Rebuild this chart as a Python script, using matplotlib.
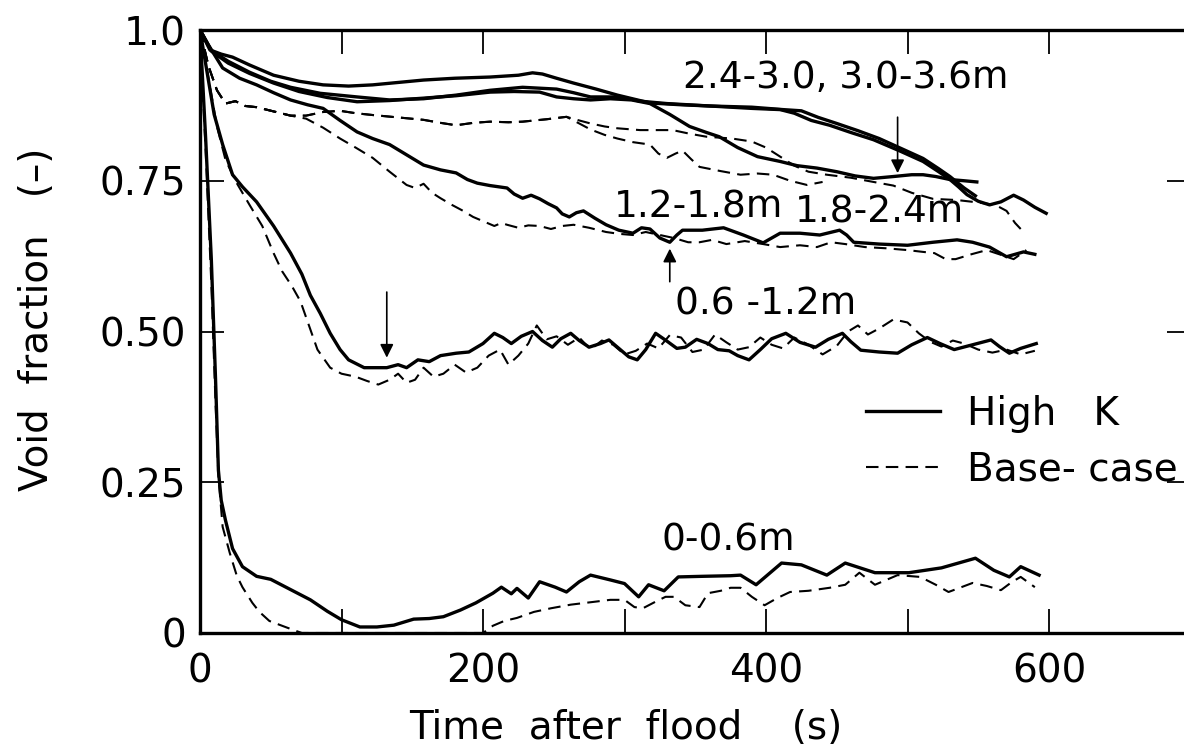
import numpy as np
import matplotlib
matplotlib.use('Agg')
import matplotlib.pyplot as plt

plt.rcParams['font.family'] = ['DejaVu Sans']

# void fraction traces, columns: time (s), void fraction (-)
# High K (solid)
s0006 = np.array([[0, 1.0], [4, 0.82], [8, 0.62], [11, 0.42], [13, 0.27], [15, 0.22], [18, 0.187],
                  [23, 0.14], [30, 0.11], [40, 0.094], [50, 0.089], [64, 0.072], [78, 0.055], [90, 0.036],
                  [100, 0.022], [113, 0.01], [125, 0.01], [137, 0.013], [151, 0.023], [162, 0.024],
                  [172, 0.027], [184, 0.038], [195, 0.05], [207, 0.066], [213, 0.076], [220, 0.065],
                  [224, 0.074], [232, 0.058], [240, 0.085], [251, 0.076], [259, 0.068], [268, 0.085],
                  [276, 0.096], [290, 0.088], [300, 0.082], [310, 0.06], [317, 0.08], [328, 0.07],
                  [338, 0.093], [355, 0.094], [375, 0.095], [382, 0.096], [393, 0.08], [411, 0.116],
                  [425, 0.113], [443, 0.096], [456, 0.116], [477, 0.1], [501, 0.1], [524, 0.108],
                  [548, 0.124], [561, 0.104], [572, 0.093], [580, 0.11], [593, 0.096]])
s0612 = np.array([[0, 1.0], [5, 0.93], [10, 0.86], [16, 0.81], [23, 0.76], [30, 0.74], [40, 0.715],
                  [52, 0.675], [64, 0.63], [72, 0.595], [78, 0.56], [85, 0.53], [92, 0.497], [99, 0.47],
                  [105, 0.453], [116, 0.44], [125, 0.44], [132, 0.44], [140, 0.445], [146, 0.44],
                  [154, 0.453], [162, 0.45], [170, 0.46], [181, 0.464], [190, 0.466], [200, 0.48],
                  [208, 0.497], [214, 0.49], [220, 0.48], [227, 0.492], [235, 0.5], [242, 0.485],
                  [249, 0.474], [255, 0.488], [262, 0.497], [268, 0.485], [275, 0.474], [283, 0.48],
                  [289, 0.486], [297, 0.47], [303, 0.458], [309, 0.453], [315, 0.47], [322, 0.497],
                  [330, 0.484], [337, 0.472], [343, 0.474], [351, 0.487], [359, 0.48], [366, 0.47],
                  [374, 0.468], [380, 0.46], [388, 0.453], [396, 0.47], [404, 0.488], [414, 0.497],
                  [424, 0.482], [435, 0.474], [444, 0.487], [454, 0.497], [460, 0.483], [467, 0.469],
                  [480, 0.466], [493, 0.464], [503, 0.478], [514, 0.49], [523, 0.48], [533, 0.47],
                  [546, 0.478], [559, 0.486], [565, 0.475], [572, 0.464], [580, 0.472], [591, 0.48]])
s1218 = np.array([[0, 1.0], [6, 0.975], [16, 0.937], [28, 0.92], [40, 0.909], [52, 0.896], [64, 0.884],
                  [76, 0.876], [87, 0.87], [99, 0.85], [111, 0.831], [122, 0.82], [134, 0.81], [146, 0.793],
                  [158, 0.776], [170, 0.768], [181, 0.763], [189, 0.752], [196, 0.746], [205, 0.742],
                  [217, 0.738], [222, 0.728], [228, 0.721], [234, 0.726], [240, 0.72], [246, 0.712],
                  [252, 0.705], [256, 0.695], [261, 0.69], [266, 0.697], [271, 0.70], [279, 0.688],
                  [287, 0.677], [296, 0.668], [306, 0.663], [312, 0.672], [318, 0.67], [325, 0.655],
                  [332, 0.648], [337, 0.66], [341, 0.668], [355, 0.668], [370, 0.672], [384, 0.66],
                  [398, 0.647], [404, 0.655], [410, 0.663], [424, 0.663], [438, 0.66], [452, 0.668],
                  [457, 0.66], [462, 0.648], [480, 0.645], [500, 0.643], [518, 0.648], [535, 0.652],
                  [546, 0.648], [558, 0.64], [564, 0.632], [570, 0.624], [576, 0.628], [582, 0.632],
                  [590, 0.628]])
s1824 = np.array([[0, 1.0], [8, 0.965], [20, 0.945], [35, 0.928], [52, 0.912], [70, 0.898], [90, 0.888],
                  [111, 0.881], [134, 0.883], [158, 0.887], [181, 0.891], [205, 0.897], [222, 0.898],
                  [240, 0.897], [252, 0.889], [264, 0.886], [276, 0.884], [290, 0.886], [305, 0.884],
                  [318, 0.878], [332, 0.86], [346, 0.84], [358, 0.83], [367, 0.823], [380, 0.805],
                  [394, 0.79], [410, 0.782], [422, 0.775], [436, 0.771], [450, 0.765], [463, 0.758],
                  [476, 0.754], [490, 0.757], [503, 0.76], [511, 0.76], [520, 0.757], [530, 0.752],
                  [540, 0.75], [549, 0.748]])
s2430 = np.array([[0, 1.0], [8, 0.966], [20, 0.948], [35, 0.93], [50, 0.915], [64, 0.905], [85, 0.895],
                  [111, 0.889], [134, 0.884], [158, 0.886], [181, 0.892], [205, 0.9], [228, 0.905],
                  [252, 0.902], [264, 0.896], [276, 0.889], [297, 0.889], [311, 0.882], [330, 0.878],
                  [360, 0.874], [390, 0.87], [410, 0.868], [420, 0.862], [432, 0.85], [445, 0.842],
                  [460, 0.83], [476, 0.818], [494, 0.8], [511, 0.782], [522, 0.765], [530, 0.752],
                  [536, 0.74], [542, 0.727], [550, 0.716], [558, 0.71], [566, 0.715], [575, 0.726],
                  [582, 0.718], [590, 0.706], [598, 0.696]])
s3036 = np.array([[0, 1.0], [7, 0.967], [15, 0.96], [23, 0.955], [35, 0.942], [52, 0.925], [70, 0.915],
                  [87, 0.909], [105, 0.907], [122, 0.909], [140, 0.913], [158, 0.917], [180, 0.92],
                  [205, 0.922], [225, 0.925], [235, 0.929], [242, 0.927], [252, 0.92], [264, 0.912],
                  [280, 0.902], [295, 0.892], [318, 0.879], [340, 0.876], [360, 0.874], [390, 0.872],
                  [412, 0.868], [425, 0.866], [437, 0.855], [450, 0.845], [465, 0.833], [480, 0.82],
                  [496, 0.803], [511, 0.787], [522, 0.77], [530, 0.757], [540, 0.738], [548, 0.725]])

# Base-case (dashed)
d0006 = np.array([[0, 1.0], [4, 0.8], [8, 0.58], [11, 0.38], [13, 0.26], [16, 0.176], [21, 0.133],
                  [26, 0.095], [30, 0.076], [37, 0.05], [42, 0.035], [49, 0.02], [58, 0.012], [66, 0.005],
                  [72, 0.0], [200, 0.0], [207, 0.012], [215, 0.02], [224, 0.025], [236, 0.035],
                  [248, 0.041], [262, 0.047], [276, 0.051], [290, 0.055], [300, 0.055], [307, 0.043],
                  [313, 0.041], [322, 0.052], [329, 0.06], [335, 0.06], [343, 0.046], [353, 0.043],
                  [359, 0.066], [368, 0.07], [375, 0.075], [382, 0.075], [390, 0.06], [399, 0.046],
                  [408, 0.058], [417, 0.068], [430, 0.07], [445, 0.075], [456, 0.08], [466, 0.1],
                  [477, 0.08], [493, 0.096], [509, 0.093], [520, 0.08], [529, 0.068], [546, 0.083],
                  [556, 0.078], [566, 0.071], [574, 0.085], [580, 0.093], [590, 0.076]])
d0612 = np.array([[0, 1.0], [6, 0.92], [12, 0.84], [18, 0.785], [25, 0.75], [35, 0.71], [44, 0.675],
                  [52, 0.63], [58, 0.6], [65, 0.575], [71, 0.55], [77, 0.51], [83, 0.47], [92, 0.44],
                  [100, 0.43], [110, 0.425], [118, 0.418], [126, 0.412], [134, 0.42], [140, 0.43],
                  [146, 0.415], [152, 0.42], [158, 0.44], [165, 0.425], [172, 0.43], [180, 0.445],
                  [188, 0.432], [196, 0.44], [204, 0.46], [212, 0.47], [218, 0.445], [225, 0.46],
                  [232, 0.48], [238, 0.51], [245, 0.487], [252, 0.492], [260, 0.478], [268, 0.49],
                  [276, 0.47], [284, 0.485], [292, 0.478], [300, 0.462], [308, 0.468], [316, 0.48],
                  [324, 0.472], [332, 0.494], [340, 0.49], [348, 0.466], [356, 0.47], [364, 0.495],
                  [372, 0.482], [380, 0.47], [388, 0.474], [396, 0.49], [404, 0.478], [412, 0.472],
                  [420, 0.49], [430, 0.478], [440, 0.462], [450, 0.476], [458, 0.5], [465, 0.51],
                  [472, 0.495], [480, 0.505], [490, 0.52], [500, 0.515], [508, 0.497], [516, 0.483],
                  [524, 0.475], [532, 0.485], [540, 0.48], [550, 0.47], [560, 0.465], [570, 0.47],
                  [580, 0.462], [590, 0.468]])
d1218 = np.array([[0, 1.0], [6, 0.94], [12, 0.9], [18, 0.878], [25, 0.882], [32, 0.874], [40, 0.872],
                  [52, 0.865], [64, 0.858], [75, 0.853], [87, 0.838], [99, 0.82], [110, 0.805],
                  [122, 0.788], [134, 0.765], [146, 0.743], [152, 0.738], [158, 0.745], [164, 0.73],
                  [170, 0.721], [178, 0.71], [186, 0.70], [193, 0.69], [200, 0.683], [208, 0.675],
                  [213, 0.68], [217, 0.677], [225, 0.672], [232, 0.676], [240, 0.675], [248, 0.67],
                  [256, 0.675], [264, 0.677], [275, 0.672], [287, 0.665], [296, 0.662], [306, 0.66],
                  [315, 0.665], [325, 0.66], [335, 0.655], [345, 0.648], [353, 0.648], [362, 0.652],
                  [372, 0.645], [385, 0.65], [398, 0.645], [410, 0.64], [424, 0.643], [436, 0.64],
                  [446, 0.648], [456, 0.645], [470, 0.64], [485, 0.638], [500, 0.635], [511, 0.632],
                  [519, 0.63], [527, 0.62], [534, 0.62], [545, 0.628], [556, 0.635], [565, 0.628],
                  [575, 0.62], [584, 0.635]])
d1824 = np.array([[0, 1.0], [6, 0.94], [12, 0.9], [18, 0.878], [25, 0.882], [32, 0.874], [40, 0.872],
                  [52, 0.865], [64, 0.858], [75, 0.858], [87, 0.864], [99, 0.866], [110, 0.862],
                  [122, 0.859], [140, 0.855], [158, 0.851], [170, 0.846], [181, 0.842], [193, 0.846],
                  [205, 0.848], [218, 0.847], [228, 0.848], [245, 0.852], [259, 0.856], [268, 0.845],
                  [276, 0.835], [286, 0.826], [295, 0.82], [306, 0.814], [318, 0.81], [324, 0.795],
                  [330, 0.788], [336, 0.795], [341, 0.8], [347, 0.786], [353, 0.773], [368, 0.766],
                  [382, 0.76], [394, 0.762], [405, 0.76], [417, 0.75], [429, 0.743], [440, 0.748]])
d3036 = np.array([[0, 1.0], [6, 0.94], [12, 0.9], [18, 0.878], [25, 0.882], [32, 0.874], [40, 0.872],
                  [52, 0.865], [64, 0.858], [75, 0.858], [87, 0.864], [99, 0.866], [110, 0.862],
                  [122, 0.859], [140, 0.855], [158, 0.851], [170, 0.846], [181, 0.842], [193, 0.846],
                  [205, 0.848], [218, 0.847], [228, 0.848], [245, 0.852], [259, 0.856], [268, 0.85],
                  [276, 0.845], [286, 0.84], [295, 0.837], [311, 0.834], [334, 0.834], [346, 0.828],
                  [358, 0.823], [376, 0.82], [390, 0.815], [400, 0.805], [410, 0.79], [420, 0.775],
                  [430, 0.765], [443, 0.76], [460, 0.755], [476, 0.748], [490, 0.742], [503, 0.73],
                  [518, 0.72], [535, 0.718], [550, 0.714], [562, 0.71], [570, 0.70], [576, 0.68],
                  [580, 0.67]])

solid = [s0006, s0612, s1218, s1824, s2430, s3036]
dashed = [d0006, d0612, d1218, d1824, d3036]

xticks = [0, 100, 200, 300, 400, 500, 600, 700]
xticklabels = ['0', '', '200', '', '400', '', '600', '']
yticks = [0, 0.25, 0.5, 0.75, 1.0]
yticklabels = ['0', '0.25', '0.50', '0.75', '1.0']

fig = plt.figure(figsize=(11.84, 7.51), dpi=100)
ax = fig.add_axes([200 / 1184, 118 / 751, 990.5 / 1184, 603 / 751])

for i, s in enumerate(solid):
    ax.plot(s[:, 0], s[:, 1], color='k', lw=2.4, solid_joinstyle='round',
            label='High   K' if i == 0 else None)
for i, d in enumerate(dashed):
    ax.plot(d[:, 0], d[:, 1], color='k', lw=1.5, linestyle=(0, (6, 3.5)),
            label='Base- case' if i == 0 else None)

ax.set_xlim(0, 700)
ax.set_ylim(0, 1.0)
ax.set_xticks(xticks)
ax.set_xticklabels(xticklabels)
ax.set_yticks(yticks)
ax.set_yticklabels(yticklabels)
ax.tick_params(direction='in', top=True, right=True, length=17, width=1.3, labelsize=28)
ax.tick_params(axis='x', pad=14)
ax.tick_params(axis='y', pad=10)
for sp in ax.spines.values():
    sp.set_linewidth(2.4)

ax.set_xlabel('Time  after  flood    (s)', fontsize=28, va='center')
ax.xaxis.set_label_coords(0.43, -0.157)
ax.set_ylabel('Void  fraction   (\u2013)', fontsize=28, va='center')
ax.yaxis.set_label_coords(-0.165, 0.52)

# curve labels
lab = dict(fontsize=27, ha='center', va='center')
ax.text(456, 0.92, '2.4-3.0, 3.0-3.6m', **lab)
ax.text(352, 0.705, '1.2-1.8m', **lab)
ax.text(480, 0.698, '1.8-2.4m', **lab)
ax.text(400, 0.545, '0.6 -1.2m', **lab)
ax.text(373, 0.153, '0-0.6m', **lab)

# arrows
arr = dict(arrowstyle='-|>', color='k', lw=1.2, mutation_scale=20)
ax.annotate('', xy=(132, 0.452), xytext=(132, 0.57), arrowprops=arr)
ax.annotate('', xy=(332, 0.642), xytext=(332, 0.578), arrowprops=arr)
ax.annotate('', xy=(493, 0.758), xytext=(493, 0.86), arrowprops=arr)

ax.legend(loc='upper left', bbox_to_anchor=(0.672, 0.395), frameon=False, fontsize=28,
          handlelength=1.9, handletextpad=0.7, labelspacing=0.45, borderpad=0, borderaxespad=0)

fig.savefig('out.png', dpi=100)
